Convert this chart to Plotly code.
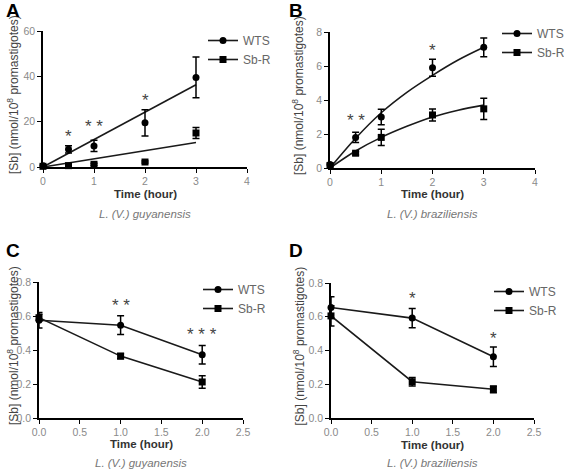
import plotly.graph_objects as go

W, H = 564, 470

# ---------------- data ----------------
# Panel A: L. (V.) guyanensis uptake
a_time = [0, 0.5, 1, 2, 3]
a_wts = [0.5, 7.8, 9.3, 19.5, 39.5]
a_wts_err = [0.5, 1.6, 2.5, 5.8, 9.0]
a_sbr = [0.3, 0.6, 1.2, 2.2, 15.0]
a_sbr_err = [0.3, 0.3, 0.4, 0.4, 2.4]
a_fit_x = [0, 3]
a_fit_wts = [0, 36.3]
a_fit_sbr = [0, 10.8]
a_stars_x = [0.5, 1, 2]
a_stars_y = [13.5, 18.0, 29.5]
a_stars = ["*", "* *", "*"]

# Panel B: L. (V.) braziliensis uptake
b_time = [0, 0.5, 1, 2, 3]
b_wts = [0.2, 1.8, 3.0, 5.9, 7.1]
b_wts_err = [0.1, 0.3, 0.45, 0.5, 0.55]
b_sbr = [0.15, 0.87, 1.8, 3.12, 3.48]
b_sbr_err = [0.1, 0.1, 0.48, 0.35, 0.63]
b_fit_x = [0, 0.5, 1, 1.5, 2, 2.5, 3]
b_fit_wts = [0, 1.75, 3.25, 4.45, 5.45, 6.35, 7.1]
b_fit_sbr = [0, 1.0, 1.8, 2.45, 3.0, 3.4, 3.7]
b_stars_x = [0.5, 2, 3]
b_stars_y = [2.8, 6.9, 8.2]
b_stars = ["* *", "*", "*"]

# Panel C: L. (V.) guyanensis efflux
c_time = [0, 1, 2]
c_wts = [0.575, 0.546, 0.372]
c_wts_err = [0.045, 0.055, 0.055]
c_sbr = [0.59, 0.364, 0.212]
c_sbr_err = [0.02, 0.015, 0.037]
c_stars_x = [1, 2]
c_stars_y = [0.66, 0.49]
c_stars = ["* *", "* * *"]

# Panel D: L. (V.) braziliensis efflux
d_time = [0, 1, 2]
d_wts = [0.655, 0.592, 0.363]
d_wts_err = [0.063, 0.057, 0.058]
d_sbr = [0.605, 0.215, 0.17]
d_sbr_err = [0.06, 0.025, 0.02]
d_stars_x = [1, 2]
d_stars_y = [0.71, 0.47]
d_stars = ["*", "*"]

series_names = ["WTS", "Sb-R"]
x_title = "Time (hour)"
y_title = "[Sb] (nmol/10<sup>8</sup> promastigotes)"
subtitles = ["<i>L. (V.) guyanensis</i>", "<i>L. (V.) braziliensis</i>",
             "<i>L. (V.) guyanensis</i>", "<i>L. (V.) braziliensis</i>"]
letters = ["A", "B", "C", "D"]

# ---------------- layout helpers ----------------
FONT = "Arial, Liberation Sans, sans-serif"
TICKC = "#8a8a8a"

def px_x(p):
    return p / W

def px_y(p):
    return 1 - p / H

# pixel boxes: (left, right, top, bottom)
boxes = [(43, 247, 31, 167), (330, 535, 32, 168), (39, 243, 282, 418), (331, 534, 283, 418)]

fig = go.Figure()

axis_common = dict(showline=True, linecolor="black", linewidth=1.6, ticks="outside",
                   ticklen=4, tickwidth=1.4, tickcolor="black", showgrid=False,
                   zeroline=False, tickfont=dict(family=FONT, size=10.5, color=TICKC),
                   fixedrange=True)

xranges = [[0, 4], [0, 4], [0, 2.5], [0, 2.5]]
yranges = [[0, 60], [0, 8], [0, 0.8], [0, 0.8]]
xdticks = [1, 1, 0.5, 0.5]
ydticks = [20, 2, 0.2, 0.2]
xfmts = ["d", "d", ".1f", ".1f"]
yfmts = ["d", "d", ".1f", ".1f"]

for i, (l, r, t, b) in enumerate(boxes):
    sfx = "" if i == 0 else str(i + 1)
    fig.layout["xaxis" + sfx] = dict(axis_common, domain=[px_x(l), px_x(r)], range=xranges[i],
                                     dtick=xdticks[i], tick0=0, tickformat=xfmts[i],
                                     anchor="y" + sfx)
    fig.layout["yaxis" + sfx] = dict(axis_common, domain=[px_y(b), px_y(t)], range=yranges[i],
                                     dtick=ydticks[i], tick0=0, tickformat=yfmts[i],
                                     anchor="x" + sfx)

MK = dict(color="black", size=7)
ERR = dict(type="data", color="black", thickness=1.5, width=3.5)
LINE = dict(color="#1a1a1a", width=1.6)

def add_points(i, x, y, err, symbol, mode="markers", legend=None, name=None, showlegend=False):
    sfx = "" if i == 0 else str(i + 1)
    fig.add_trace(go.Scatter(x=x, y=y, mode=mode, xaxis="x" + sfx, yaxis="y" + sfx,
                             marker=dict(MK, symbol=symbol), line=LINE,
                             error_y=dict(ERR, array=err), cliponaxis=False,
                             name=name, showlegend=showlegend,
                             legend=legend if legend else "legend"))

def add_line(i, x, y, shape="linear"):
    sfx = "" if i == 0 else str(i + 1)
    fig.add_trace(go.Scatter(x=x, y=y, mode="lines", xaxis="x" + sfx, yaxis="y" + sfx,
                             line=dict(LINE, shape=shape), showlegend=False, cliponaxis=False))

def add_legend_dummy(i, legend):
    sfx = "" if i == 0 else str(i + 1)
    for nm, sym in zip(series_names, ["circle", "square"]):
        fig.add_trace(go.Scatter(x=[None], y=[None], mode="lines+markers", xaxis="x" + sfx,
                                 yaxis="y" + sfx, marker=dict(MK, symbol=sym), line=LINE,
                                 name=nm, legend=legend, showlegend=True))

# Panel A
add_line(0, a_fit_x, a_fit_wts)
add_line(0, a_fit_x, a_fit_sbr)
add_points(0, a_time, a_wts, a_wts_err, "circle")
add_points(0, a_time, a_sbr, a_sbr_err, "square")
add_legend_dummy(0, "legend")

# Panel B
add_line(1, b_fit_x, b_fit_wts, "spline")
add_line(1, b_fit_x, b_fit_sbr, "spline")
add_points(1, b_time, b_wts, b_wts_err, "circle")
add_points(1, b_time, b_sbr, b_sbr_err, "square")
add_legend_dummy(1, "legend2")

# Panel C
add_points(2, c_time, c_wts, c_wts_err, "circle", mode="lines+markers",
           legend="legend3", name=series_names[0], showlegend=True)
add_points(2, c_time, c_sbr, c_sbr_err, "square", mode="lines+markers",
           legend="legend3", name=series_names[1], showlegend=True)

# Panel D
add_points(3, d_time, d_wts, d_wts_err, "circle", mode="lines+markers",
           legend="legend4", name=series_names[0], showlegend=True)
add_points(3, d_time, d_sbr, d_sbr_err, "square", mode="lines+markers",
           legend="legend4", name=series_names[1], showlegend=True)

# legends
leg_common = dict(font=dict(family=FONT, size=12, color="#666"), bgcolor="rgba(0,0,0,0)",
                  itemwidth=30, xanchor="left", yanchor="top", tracegroupgap=0,
                  itemclick=False, itemdoubleclick=False)
leg_pos = [(243, 41), (537, 34), (238, 290), (529, 292)]
for k, (lx, ly) in enumerate(leg_pos):
    key = "legend" if k == 0 else "legend" + str(k + 1)
    fig.layout[key] = dict(leg_common, x=px_x(lx - 40), y=px_y(ly - 15))

annotations = []
star_sets = [(a_stars_x, a_stars_y, a_stars), (b_stars_x, b_stars_y, b_stars),
             (c_stars_x, c_stars_y, c_stars), (d_stars_x, d_stars_y, d_stars)]
for i, (sx, sy, st) in enumerate(star_sets):
    sfx = "" if i == 0 else str(i + 1)
    for xx, yy, tt in zip(sx, sy, st):
        annotations.append(dict(x=xx, y=yy, xref="x" + sfx, yref="y" + sfx, text=tt,
                                showarrow=False, font=dict(family=FONT, size=17, color="#444"),
                                xanchor="center", yanchor="middle"))

xt_y = [194, 194, 444, 445]
sub_y = [214, 214, 463, 463]
ytitle_x = [13, 298, 13, 298]
letter_pos = [(13, 11), (296, 11), (13, 250), (296, 250)]
for i, (l, r, t, b) in enumerate(boxes):
    cx = (l + r) / 2
    annotations.append(dict(x=px_x(cx), y=px_y(xt_y[i]), xref="paper", yref="paper",
                            text="<b>" + x_title + "</b>", showarrow=False,
                            xanchor="center", yanchor="middle",
                            font=dict(family=FONT, size=11.5, color="#333")))
    annotations.append(dict(x=px_x(cx), y=px_y(sub_y[i]), xref="paper", yref="paper",
                            text=subtitles[i], showarrow=False,
                            xanchor="center", yanchor="middle",
                            font=dict(family=FONT, size=11.5, color="#777")))
    annotations.append(dict(x=px_x(ytitle_x[i]), y=px_y((t + b) / 2 - 4), xref="paper",
                            yref="paper", text=y_title, showarrow=False, textangle=-90,
                            xanchor="center", yanchor="middle",
                            font=dict(family=FONT, size=12, color="#444")))
    lx, ly = letter_pos[i]
    annotations.append(dict(x=px_x(lx), y=px_y(ly), xref="paper", yref="paper",
                            text="<b>" + letters[i] + "</b>", showarrow=False,
                            xanchor="center", yanchor="middle",
                            font=dict(family=FONT, size=19, color="black")))

fig.update_layout(width=W, height=H,
                  margin=dict(l=0, r=0, t=0, b=0, pad=0, autoexpand=False),
                  paper_bgcolor="white", plot_bgcolor="white",
                  annotations=annotations, font=dict(family=FONT))

fig.write_html("out.html", config={"displayModeBar": False},
               post_script="document.body.style.margin='0';document.body.style.overflow='hidden';")
